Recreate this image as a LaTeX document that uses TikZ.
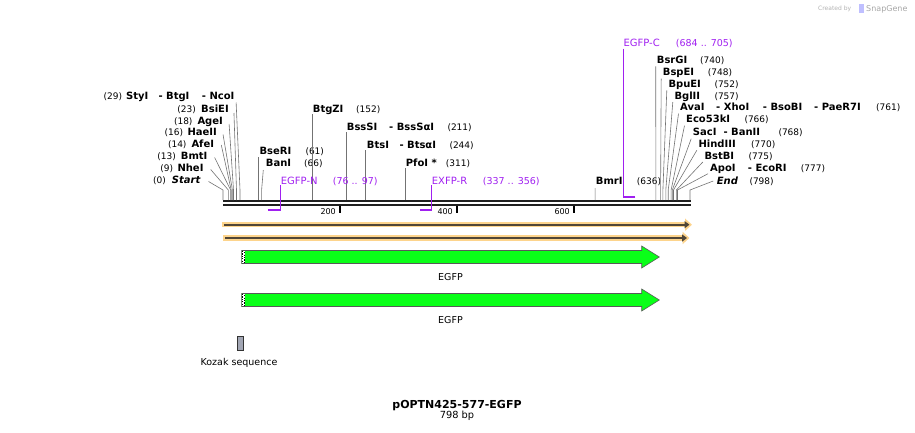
\documentclass[tikz,border=0pt]{standalone}
\usepackage{fontspec}
\setmainfont{DejaVu Sans}
\usetikzlibrary{arrows.meta,calc}
\definecolor{primerc}{RGB}{160,32,240}
\definecolor{glowc}{RGB}{253,212,140}
\definecolor{darkc}{RGB}{80,70,55}
\definecolor{cdsc}{RGB}{10,255,24}
\definecolor{kozakc}{RGB}{162,166,180}
\tikzset{
  enz/.style={font=\fontsize{10}{12}\selectfont\bfseries, inner sep=0pt, anchor=base west},
  bpnum/.style={font=\fontsize{9}{11}\selectfont, inner sep=0pt, anchor=base west},
  cutline/.style={draw=black!55, line width=0.6pt},
  primlbl/.style={font=\fontsize{10}{12}\selectfont, text=primerc, inner sep=0pt, anchor=base west},
  primrng/.style={font=\fontsize{9.5}{11}\selectfont, text=primerc, inner sep=0pt, anchor=base west},
  primer/.style={draw=primerc, line width=1.1pt},
  featlbl/.style={font=\fontsize{9.5}{11}\selectfont, inner sep=0pt, anchor=base},
  cds/.style={fill=cdsc, draw=black!65, line width=0.6pt},
  glowbar/.style={draw=glowc, line width=5.5pt, -{Triangle[length=7pt,width=12pt]}},
  darkbar/.style={draw=darkc, line width=1.8pt, -{Triangle[length=5pt,width=7pt]}}
}
\begin{document}
\begin{tikzpicture}[x=1pt, y=-1pt]
\useasboundingbox (0,0) rectangle (915,432);

% Logo
\node[font=\fontsize{6}{7}\selectfont, text=black!30, inner sep=0pt, anchor=base west] (made) at (818,10) {Created by};
\fill[blue!25] (859,4) rectangle (863.5,13);
\node[font=\fontsize{8}{9}\selectfont, text=black!35, inner sep=0pt, anchor=base west] (snap) at (866,11) {SnapGene};

% Sequence bar
\draw[line width=2pt, black!88] (223,201) -- (691,201);
\draw[line width=2.3pt, black!88] (223,205.3) -- (691,205.3);
\draw[line width=1.8pt] (340,206) -- (340,212.5);
\draw[line width=1.8pt] (457,206) -- (457,212.5);
\draw[line width=1.8pt] (574,206) -- (574,212.5);
\node[bpnum, font=\fontsize{8}{9}\selectfont, anchor=base east] (t200) at (336,214.3) {200};
\node[bpnum, font=\fontsize{8}{9}\selectfont, anchor=base east] (t400) at (453,214.3) {400};
\node[bpnum, font=\fontsize{8}{9}\selectfont, anchor=base east] (t600) at (570,214.3) {600};

% Cut sites on the bar
\coordinate (sStart) at (223,200);   \coordinate (sNheI) at (228.3,200);
\coordinate (sBmtI) at (230.6,200);  \coordinate (sAfeI) at (231.2,200);
\coordinate (sHaeII) at (232.4,200); \coordinate (sAgeI) at (233.5,200);
\coordinate (sBsiEI) at (236.5,200); \coordinate (sNcoI) at (240,200);
\coordinate (sBseRI) at (258.7,200); \coordinate (sBanI) at (261.6,200);
\coordinate (sBtgZI) at (311.9,200); \coordinate (sBssSI) at (346.4,200);
\coordinate (sBtsI) at (365.7,200);  \coordinate (sPfoI) at (404.9,200);
\coordinate (sBmrI) at (595.1,200);  \coordinate (sBsrGI) at (655.9,200);
\coordinate (sBspEI) at (660.6,200); \coordinate (sBpuEI) at (662.9,200);
\coordinate (sBglII) at (665.8,200); \coordinate (sAvaI) at (668.2,200);
\coordinate (sEco) at (671.1,200);   \coordinate (sSacI) at (672.3,200);
\coordinate (sHind) at (673.5,200);  \coordinate (sBstBI) at (676.4,200);
\coordinate (sApoI) at (677.5,200);  \coordinate (sEnd) at (690,200);

% Left cluster
\node[bpnum, anchor=base east] (n29) at (122.3,99.5) {(29)};
\node[enz] (StyI) at (126,99.5) {StyI};
\node[enz] (BtgI) at (158.3,99.5) {- BtgI};
\node[enz] (NcoI) at (201.7,99.5) {- NcoI};
\node[bpnum, anchor=base east] (n23) at (196,112) {(23)};
\node[enz] (BsiEI) at (201,112) {BsiEI};
\node[bpnum, anchor=base east] (n18) at (192.7,124) {(18)};
\node[enz] (AgeI) at (197.3,124) {AgeI};
\node[bpnum, anchor=base east] (n16) at (183.3,135.5) {(16)};
\node[enz] (HaeII) at (187.3,135.5) {HaeII};
\node[bpnum, anchor=base east] (n14) at (186.7,147) {(14)};
\node[enz] (AfeI) at (191.3,147) {AfeI};
\node[bpnum, anchor=base east] (n13) at (176,159.5) {(13)};
\node[enz] (BmtI) at (180.7,159.5) {BmtI};
\node[bpnum, anchor=base east] (n9) at (173.3,171.5) {(9)};
\node[enz] (NheI) at (177.3,171.5) {NheI};
\node[bpnum, anchor=base east] (n0) at (166,183.5) {(0)};
\node[enz, font=\fontsize{10}{12}\selectfont\bfseries\itshape] (Start) at (171.7,183.5) {Start};

\draw[cutline] ($(NcoI.base east)+(1.5,3)$) -- ($(sNcoI)-(0,10)$) -- (sNcoI);
\draw[cutline] ($(BsiEI.base east)+(5,1)$) -- ($(sBsiEI)-(0,10)$) -- (sBsiEI);
\draw[cutline] ($(AgeI.base east)+(6,0)$) -- ($(sAgeI)-(0,10)$) -- (sAgeI);
\draw[cutline] ($(HaeII.base east)+(6,-1)$) -- ($(sHaeII)-(0,10)$) -- (sHaeII);
\draw[cutline] ($(AfeI.base east)+(7,-2)$) -- ($(sAfeI)-(0,10)$) -- (sAfeI);
\draw[cutline] ($(BmtI.base east)+(7,-2)$) -- ($(sBmtI)-(0,10)$) -- (sBmtI);
\draw[cutline] ($(NheI.base east)+(7,-2)$) -- ($(sNheI)-(0,10)$) -- (sNheI);
\draw[cutline] ($(Start.base east)+(8,-2)$) -- ($(sStart)-(0,10)$) -- (sStart);

% Middle
\node[enz] (BseRI) at (259.3,154) {BseRI};
\node[bpnum] (n61) at (305.3,154) {(61)};
\node[enz] (BanI) at (265.7,166) {BanI};
\node[bpnum] (n66) at (304,166) {(66)};
\node[enz] (BtgZI) at (312.7,112) {BtgZI};
\node[bpnum] (n152) at (356,112) {(152)};
\node[enz] (BssSI) at (346.7,130) {BssSI};
\node[enz] (BssSaI) at (389,130) {- BssSαI};
\node[bpnum] (n211) at (447.3,130) {(211)};
\node[enz] (BtsI) at (366.7,148.3) {BtsI};
\node[enz] (BtsaI) at (399.3,148.3) {- BtsαI};
\node[bpnum] (n244) at (449.3,148.3) {(244)};
\node[enz] (PfoI) at (405.7,166) {PfoI *};
\node[bpnum] (n311) at (445.7,166) {(311)};

\draw[cutline] ($(BseRI.base west)+(-0.6,3)$) -- ($(sBseRI)-(0,10)$) -- (sBseRI);
\draw[cutline] ($(BanI.base west)+(-2.4,4)$) -- ($(sBanI)-(0,10)$) -- (sBanI);
\draw[cutline] ($(BtgZI.base west)+(-0.8,2)$) -- (sBtgZI);
\draw[cutline] ($(BssSI.base west)+(-0.3,2)$) -- (sBssSI);
\draw[cutline] ($(BtsI.base west)+(-1,2)$) -- (sBtsI);
\draw[cutline] ($(PfoI.base west)+(-0.8,2)$) -- (sPfoI);

% Right cluster
\node[enz] (BmrI) at (595.7,184) {BmrI};
\node[bpnum] (n636) at (636.7,184) {(636)};
\node[enz] (BsrGI) at (656.7,63.3) {BsrGI};
\node[bpnum] (n740) at (700,63.3) {(740)};
\node[enz] (BspEI) at (662.7,75.7) {BspEI};
\node[bpnum] (n748) at (707.7,75.7) {(748)};
\node[enz] (BpuEI) at (668.3,87.3) {BpuEI};
\node[bpnum] (n752) at (714.3,87.3) {(752)};
\node[enz] (BglII) at (674.3,99) {BglII};
\node[bpnum] (n757) at (714.3,99) {(757)};
\node[enz] (AvaI) at (680,110.7) {AvaI};
\node[enz] (XhoI) at (716,110.7) {- XhoI};
\node[enz] (BsoBI) at (762.7,110.7) {- BsoBI};
\node[enz] (PaeR7I) at (814,110.7) {- PaeR7I};
\node[bpnum] (n761) at (876,110.7) {(761)};
\node[enz] (Eco53kI) at (686,122.7) {Eco53kI};
\node[bpnum] (n766) at (744.3,122.7) {(766)};
\node[enz] (SacI) at (692.7,135.7) {SacI};
\node[enz] (BanII) at (723.3,135.7) {- BanII};
\node[bpnum] (n768) at (778.3,135.7) {(768)};
\node[enz] (HindIII) at (698.3,147.3) {HindIII};
\node[bpnum] (n770) at (751,147.3) {(770)};
\node[enz] (BstBI) at (704.3,159) {BstBI};
\node[bpnum] (n775) at (748.3,159) {(775)};
\node[enz] (ApoI) at (710,171.7) {ApoI};
\node[enz] (EcoRI) at (747.7,171.7) {- EcoRI};
\node[bpnum] (n777) at (800.7,171.7) {(777)};
\node[enz, font=\fontsize{10}{12}\selectfont\bfseries\itshape] (End) at (716.7,184) {End};
\node[bpnum] (n798) at (749.3,184) {(798)};

\draw[cutline] ($(BmrI.base west)+(-0.6,4)$) -- (sBmrI);
\draw[cutline] ($(BsrGI.base west)+(-1,3)$) -- (sBsrGI);
\draw[cutline] ($(BspEI.base west)+(-1.5,3)$) -- ($(sBspEI)-(0,10)$) -- (sBspEI);
\draw[cutline] ($(BpuEI.base west)+(-1.5,3)$) -- ($(sBpuEI)-(0,10)$) -- (sBpuEI);
\draw[cutline] ($(BglII.base west)+(-1.5,3)$) -- ($(sBglII)-(0,10)$) -- (sBglII);
\draw[cutline] ($(AvaI.base west)+(-1.5,3)$) -- ($(sAvaI)-(0,10)$) -- (sAvaI);
\draw[cutline] ($(Eco53kI.base west)+(-1.5,3)$) -- ($(sEco)-(0,10)$) -- (sEco);
\draw[cutline] ($(SacI.base west)+(-1.5,3)$) -- ($(sSacI)-(0,10)$) -- (sSacI);
\draw[cutline] ($(HindIII.base west)+(-1.5,3)$) -- ($(sHind)-(0,10)$) -- (sHind);
\draw[cutline] ($(BstBI.base west)+(-1.5,3)$) -- ($(sBstBI)-(0,10)$) -- (sBstBI);
\draw[cutline] ($(ApoI.base west)+(-2,2)$) -- ($(sApoI)-(0,10)$) -- (sApoI);
\draw[cutline] ($(End.base west)+(-3.5,-3)$) -- ($(sEnd)-(0,10)$) -- (sEnd);

% Primers
\node[primlbl] (egfpN) at (280.7,184.3) {EGFP-N};
\node[primrng] (rngN) at (332.7,184.3) {(76 .. 97)};
\node[primlbl] (exfpR) at (431.7,184.3) {EXFP-R};
\node[primrng] (rngR) at (482.7,184.3) {(337 .. 356)};
\node[primlbl] (egfpC) at (623.3,46.7) {EGFP-C};
\node[primrng] (rngC) at (675.7,46.7) {(684 .. 705)};
\coordinate (pN) at (267.5,210.3);
\coordinate (pR) at (420.1,210.3);
\coordinate (pC) at (635.4,196.6);
\draw[primer] ($(egfpN.base west)+(0,1)$) |- (pN);
\draw[primer, line width=2.2pt] (pN) -- ++(13.2,0);
\draw[primer] ($(exfpR.base west)+(0,1)$) |- (pR);
\draw[primer, line width=2.2pt] (pR) -- ++(11.6,0);
\draw[primer] ($(egfpC.base west)+(0,2)$) |- (pC);
\draw[primer, line width=2.2pt] (pC) -- ++(-12.3,0);

% Full-length features
\draw[glowbar] (222,224.7) -- (692,224.7);
\draw[darkbar] (224,224.7) -- (689.5,224.7);
\draw[glowbar] (223,238) -- (689.5,238);
\draw[darkbar] (225,238) -- (687,238);

% EGFP arrows
\draw[cds] (241.7,250.5) -- (641.7,250.5) -- (641.7,246) -- (659.3,257) -- (641.7,268) -- (641.7,263.5) -- (241.7,263.5) -- cycle;
\fill[white] (241.7,251) rectangle (245.3,263);
\draw[line width=1.2pt, dash pattern=on 1.2pt off 1.2pt] (242.5,251) -- (242.5,263);
\draw[line width=1.2pt, dash pattern=on 1.2pt off 1.2pt, dash phase=1.2pt] (244.4,251) -- (244.4,263);
\node[featlbl] (egfp1) at (450.5,280.3) {EGFP};

\draw[cds] (241.7,293.5) -- (641.7,293.5) -- (641.7,289) -- (659.3,300) -- (641.7,311) -- (641.7,306.5) -- (241.7,306.5) -- cycle;
\fill[white] (241.7,294) rectangle (245.3,306);
\draw[line width=1.2pt, dash pattern=on 1.2pt off 1.2pt] (242.5,294) -- (242.5,306);
\draw[line width=1.2pt, dash pattern=on 1.2pt off 1.2pt, dash phase=1.2pt] (244.4,294) -- (244.4,306);
\node[featlbl] (egfp2) at (450.5,323.6) {EGFP};

% Kozak
\draw[fill=kozakc, draw=black!80, line width=0.6pt] (237.3,336.3) rectangle (243.3,350.5);
\node[featlbl] (kozak) at (239,365) {Kozak sequence};

% Title
\node[font=\fontsize{11}{13}\selectfont\bfseries, inner sep=0pt, anchor=base] (title) at (457,408.3) {pOPTN425-577-EGFP};
\node[featlbl, font=\fontsize{9.8}{11}\selectfont] (len) at (457,418.8) {798 bp};
\end{tikzpicture}
\end{document}
